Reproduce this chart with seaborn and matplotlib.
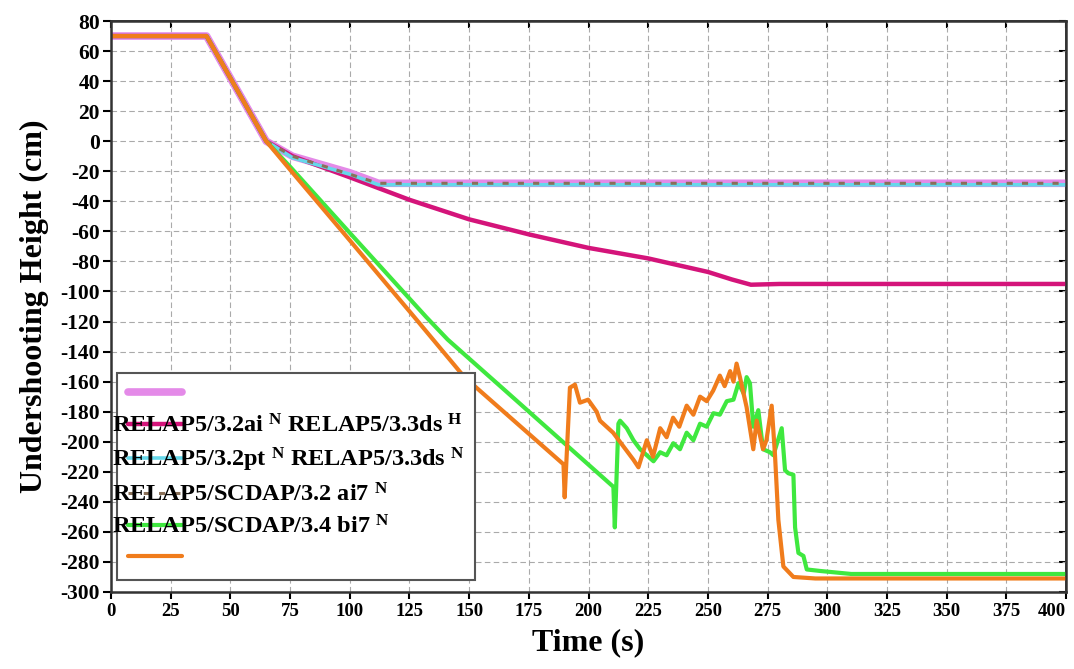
import numpy as np
import pandas as pd
import matplotlib
matplotlib.use("Agg")
import matplotlib.pyplot as plt
import seaborn as sns

# Dati (tempo in s, altezza in cm)
t_violet = [0, 40, 65, 76, 100, 112, 400]
h_violet = [70, 70, 0, -10, -21, -28, -28]

t_crimson = [0, 40, 65, 76, 100, 125, 150, 175, 200, 225, 250, 260, 268, 280, 400]
h_crimson = [70, 70, 0, -10, -24, -39, -52, -62, -71, -78, -87, -92, -95.5, -95, -95]

t_cyan = [0, 40, 65, 76, 100, 112, 400]
h_cyan = [70, 70, 0, -11, -22, -29, -29]

t_tan = [65, 76, 100, 112, 400]
h_tan = [0, -10, -22, -28, -28]

t_green = [0, 40, 65, 75, 100, 132, 141, 163, 210.4, 211, 212.5, 213.2, 216, 218.8, 221.6,
           227.2, 230, 232.7, 235.5, 238.3, 241.1, 243.9, 246.7, 249.5, 252.3, 255, 257.9,
           260.7, 262.8, 265, 266.2, 267.6, 269, 271.1, 273.1, 276, 277.4, 280.9, 282.3,
           283.7, 285.8, 286.5, 287.9, 290, 291.4, 297, 310, 400]
h_green = [70, 70, 0, -17, -61, -117, -132, -163, -230, -257, -188, -186, -191, -199, -205,
           -213, -207, -209, -201, -205, -194, -199, -188, -190, -181, -182, -173,
           -172, -161, -168, -157, -161, -190, -179, -205, -207, -209, -191, -219,
           -221, -222, -257, -274, -276, -285, -286, -288, -288]

t_orange = [0, 40, 65, 75, 100, 127, 148, 189.5, 190, 192.2, 194.3, 196.4, 199.8, 203.4,
            204.8, 210.3, 218.8, 220.9, 224.4, 227, 230, 232.7, 235.4, 238, 241.1, 243.9,
            246.7, 249.5, 252.2, 255, 257, 259.3, 260.7, 262, 263.4, 266.2, 269, 270.4,
            273.1, 274.5, 276.7, 278.1, 279.5, 281.6, 285.8, 295, 400]
h_orange = [70, 70, 0, -19, -66, -117, -157, -215, -237, -164, -162, -174, -172, -180,
            -186, -194, -212, -217, -199, -210, -191, -197, -184, -190, -176, -182,
            -170, -173, -166, -156, -163, -153, -160, -148, -157, -177, -205, -186,
            -205, -199, -176, -209, -252, -283, -290, -291, -291]

labels = [" ",
          r"RELAP5/3.2ai $^{\mathbf{N}}$ RELAP5/3.3ds $^{\mathbf{H}}$",
          r"RELAP5/3.2pt $^{\mathbf{N}}$ RELAP5/3.3ds $^{\mathbf{N}}$",
          r"RELAP5/SCDAP/3.2 ai7 $^{\mathbf{N}}$",
          r"RELAP5/SCDAP/3.4 bi7 $^{\mathbf{N}}$",
          " "]

x_ticks = np.arange(0, 401, 25)
y_ticks = np.arange(-300, 81, 20)

sns.set_theme(style="ticks")
plt.rcParams["font.family"] = ["Liberation Serif", "DejaVu Serif"]
plt.rcParams["font.weight"] = "bold"
plt.rcParams["text.color"] = "black"
plt.rcParams["axes.labelcolor"] = "black"
plt.rcParams["xtick.color"] = "black"
plt.rcParams["ytick.color"] = "black"
plt.rcParams["axes.unicode_minus"] = False
plt.rcParams["mathtext.fontset"] = "custom"
plt.rcParams["mathtext.rm"] = "Liberation Serif:bold"
plt.rcParams["mathtext.bf"] = "Liberation Serif:bold"
plt.rcParams["mathtext.it"] = "Liberation Serif:bold"

fig = plt.figure(figsize=(10.74, 6.69), dpi=100)
ax = fig.add_axes([0.1034, 0.1151, 0.8892, 0.8535])

series = [
    (t_violet, h_violet, "#e48ae8", 5.5, "-"),
    (t_crimson, h_crimson, "#d4147a", 3.2, "-"),
    (t_cyan, h_cyan, "#66d8ea", 2.6, "-"),
    (t_tan, h_tan, "#8a7058", 2.2, (0, (2, 3))),
    (t_green, h_green, "#3fe83f", 3.0, "-"),
    (t_orange, h_orange, "#f07c1c", 3.0, "-"),
]

handles = []
for t, h, col, lw, ls in series:
    df = pd.DataFrame({"t": t, "h": h})
    sns.lineplot(data=df, x="t", y="h", ax=ax, color=col, linewidth=lw,
                 linestyle=ls, sort=False, estimator=None)
    handles.append(ax.lines[-1])

ax.set_xlim(0, 400)
ax.set_ylim(-300, 80)
ax.set_xticks(x_ticks)
ax.set_yticks(y_ticks)
ax.tick_params(axis="x", labelsize=13.5, direction="out", length=5, width=1.5, pad=3)
ax.tick_params(axis="y", labelsize=15.5, direction="out", length=6, width=1.5, pad=2)
for lab in ax.get_xticklabels() + ax.get_yticklabels():
    lab.set_fontweight("bold")
xl = ax.get_xticklabels()
xl[-1].set_horizontalalignment("right")

ax.grid(True, color="#aaaaaa", linestyle=(0, (5, 3)), linewidth=0.8)
for s in ax.spines.values():
    s.set_visible(True)
    s.set_color("#333333")
    s.set_linewidth(1.8)

sec_x = ax.secondary_xaxis("top")
sec_x.set_xticks(x_ticks)
sec_x.tick_params(direction="in", length=5, width=1.5, labeltop=False)
sec_y = ax.secondary_yaxis("right")
sec_y.set_yticks(y_ticks)
sec_y.tick_params(direction="in", length=5, width=1.5, labelright=False)

ax.set_xlabel("Time (s)", fontsize=23, fontweight="bold", labelpad=6)
ax.set_ylabel("Undershooting Height (cm)", fontsize=23, fontweight="bold", labelpad=8)

leg = ax.legend(handles, labels, loc="lower left", bbox_to_anchor=(0.006, 0.021),
                prop={"family": "Liberation Serif", "weight": "bold", "size": 17.5},
                handlelength=2.22, handletextpad=-2.88, labelspacing=0.36,
                borderpad=0.45, borderaxespad=0, fancybox=False, framealpha=1,
                edgecolor="#555555", labelcolor="black")
leg.get_frame().set_linewidth(1.5)

fig.savefig("out.png", dpi=100)
